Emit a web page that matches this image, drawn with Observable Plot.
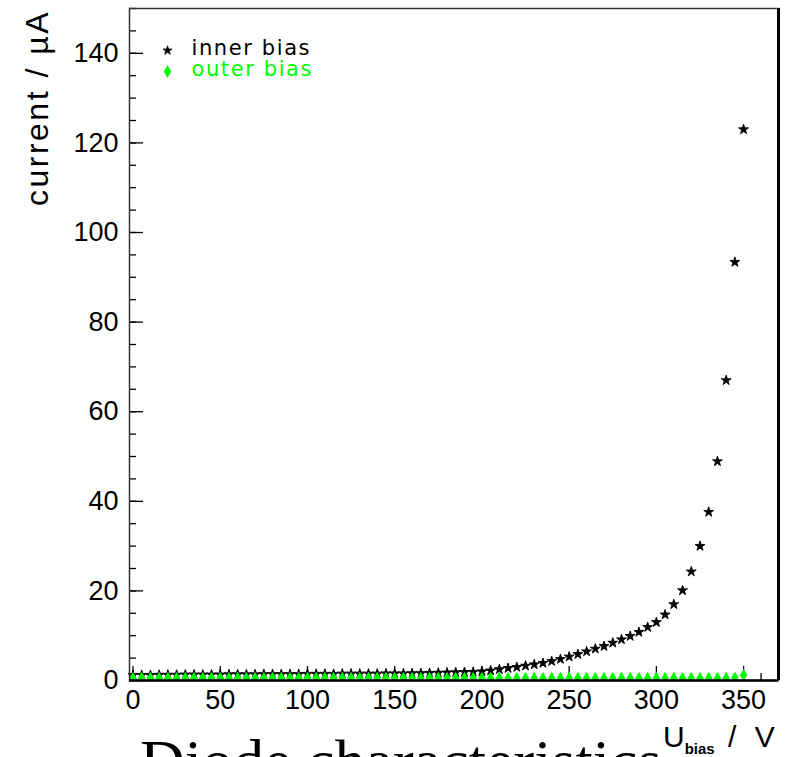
<!DOCTYPE html>
<html><head><meta charset="utf-8">
<script src="https://cdn.jsdelivr.net/npm/d3@7"></script>
<script src="https://cdn.jsdelivr.net/npm/@observablehq/plot@0.6"></script>
<style>
html,body{margin:0;padding:0;background:#fff;overflow:hidden;width:794px;height:757px}
#wrap{position:relative;width:794px;height:757px;overflow:hidden}
#caption{position:absolute;left:140px;top:730px;font-family:"Liberation Serif","Times New Roman",serif;font-size:62px;line-height:62px;white-space:nowrap;color:#000}
svg text{white-space:pre}
</style></head><body>
<div id="wrap"><div id="chart"></div><div id="caption"></div></div>
<script>
const voltage = [0,5,10,15,20,25,30,35,40,45,50,55,60,65,70,75,80,85,90,95,100,105,110,115,120,125,130,135,140,145,150,155,160,165,170,175,180,185,190,195,200,205,210,215,220,225,230,235,240,245,250,255,260,265,270,275,280,285,290,295,300,305,310,315,320,325,330,335,340,345,350];
const innerCurrent = [1.2,1.2,1.2,1.25,1.25,1.25,1.3,1.3,1.3,1.3,
  1.3,1.35,1.35,1.35,1.35,1.4,1.4,1.4,1.4,1.4,
  1.45,1.45,1.45,1.45,1.5,1.5,1.5,1.5,1.5,1.55,
  1.55,1.55,1.6,1.6,1.65,1.7,1.75,1.8,1.85,1.9,
  2.0,2.2,2.5,2.75,2.97,3.27,3.57,3.87,4.3,4.76,
  5.3,5.87,6.47,7.07,7.66,8.4,9.15,9.9,10.8,11.9,
  13.0,14.7,17.0,20.1,24.3,30.0,37.6,48.9,67.0,93.4,
  123.0];
const outerCurrent = [0.5,0.5,0.5,0.5,0.5,0.5,0.5,0.5,0.5,0.5,
  0.5,0.5,0.5,0.5,0.5,0.5,0.5,0.5,0.5,0.5,
  0.5,0.5,0.5,0.5,0.5,0.5,0.5,0.5,0.5,0.5,
  0.5,0.5,0.5,0.5,0.5,0.5,0.5,0.5,0.5,0.5,
  0.5,0.5,0.5,0.5,0.5,0.5,0.5,0.5,0.5,0.5,
  0.5,0.5,0.5,0.5,0.5,0.5,0.5,0.5,0.5,0.5,
  0.5,0.5,0.5,0.5,0.5,0.5,0.5,0.5,0.5,0.6,
  1.2];
const xTickValues = [0,50,100,150,200,250,300,350];
const xMinorTicks = [0,10,20,30,40,50,60,70,80,90,100,110,120,130,140,150,160,170,180,190,200,210,220,230,240,250,260,270,280,290,300,310,320,330,340,350,360,370];
const yTickValues = [0,20,40,60,80,100,120,140];
const yMinorTicks = [0,5,10,15,20,25,30,35,40,45,50,55,60,65,70,75,80,85,90,95,100,105,110,115,120,125,130,135,140,145,150];
const xDomain = [-2, 370];
const yDomain = [0, 150];
const seriesNames = ["inner bias", "outer bias"];
const seriesColors = ["#000000", "#00ff00"];
const seriesSymbols = ["star", "diamond"];
const xTitleParts = ["U", "bias", " / V"];
const yTitle = "current / µA";
const captionText = "Diode characteristics";

const W = 794, H = 757, mL = 129, mR = 16, mT = 8, mB = 77;
const fw = W - mL - mR, fh = H - mT - mB;

const inner = voltage.map((v, i) => ({v, c: innerCurrent[i]}));
const outer = voltage.map((v, i) => ({v, c: outerCurrent[i]}));

const plot = Plot.plot({
  width: W, height: H,
  marginLeft: mL, marginRight: mR, marginTop: mT, marginBottom: mB,
  x: {domain: xDomain},
  y: {domain: yDomain},
  style: {fontFamily: "'Liberation Sans', Arial, sans-serif", fontSize: "27px", background: "#fff", color: "#000"},
  marks: [
    Plot.tickY(yMinorTicks, {y: d => d, insetRight: fw - 7, stroke: "#000", strokeWidth: 1.3}),
    Plot.tickY(yTickValues, {y: d => d, insetRight: fw - 14, stroke: "#000", strokeWidth: 1.3}),
    Plot.tickX(xMinorTicks, {x: d => d, insetTop: fh - 7, stroke: "#000", strokeWidth: 1.3}),
    Plot.tickX(xTickValues, {x: d => d, insetTop: fh - 14, stroke: "#000", strokeWidth: 1.3}),
    Plot.axisY(yTickValues, {tickSize: 0, tickPadding: 11, label: null, fontSize: 27}),
    Plot.axisX(xTickValues, {tickSize: 0, tickPadding: 9, label: null, fontSize: 27}),
    Plot.dot(inner, {x: "v", y: "c", symbol: seriesSymbols[0], r: 3.1, fill: seriesColors[0], stroke: seriesColors[0], strokeWidth: 0.9}),
    Plot.dot(outer, {x: "v", y: "c", symbol: seriesSymbols[1], r: 3.9, fill: seriesColors[1], stroke: null, clip: true}),
    Plot.frame({stroke: "#333", strokeWidth: 1.5}),
    Plot.ruleX([xDomain[1]], {stroke: "#000", strokeWidth: 3}),
    Plot.ruleY([yDomain[0]], {stroke: "#000", strokeWidth: 2.5}),
    Plot.dot([seriesNames[0]], {frameAnchor: "top-left", dx: 38, dy: 42, symbol: seriesSymbols[0], r: 2.8, fill: seriesColors[0], stroke: seriesColors[0], strokeWidth: 0.8}),
    Plot.dot([seriesNames[1]], {frameAnchor: "top-left", dx: 38, dy: 63, symbol: seriesSymbols[1], r: 3.9, fill: seriesColors[1], stroke: null}),
    Plot.text([seriesNames[0]], {text: d => d, frameAnchor: "top-left", dx: 62, dy: 40, textAnchor: "start", lineAnchor: "middle", fontSize: 21, fontFamily: "'DejaVu Sans', sans-serif", fill: seriesColors[0]}),
    Plot.text([seriesNames[1]], {text: d => d, frameAnchor: "top-left", dx: 62, dy: 61, textAnchor: "start", lineAnchor: "middle", fontSize: 21, fontFamily: "'DejaVu Sans', sans-serif", fill: seriesColors[1]})
  ]
});

document.getElementById("chart").appendChild(plot);
const svg = d3.select(plot);
svg.selectAll("text").filter(function(){ return this.textContent === seriesNames[0] || this.textContent === seriesNames[1]; }).style("letter-spacing", "1.6px");

const xt = svg.append("text")
  .attr("x", 663).attr("y", 747)
  .attr("text-anchor", "start").attr("font-size", 30).attr("fill", "#000");
xt.append("tspan").text(xTitleParts[0]);
xt.append("tspan").attr("font-size", 15).attr("font-weight", "bold").attr("dy", 7).text(xTitleParts[1]);
xt.append("tspan").attr("dy", -7).style("letter-spacing", "5px").text(xTitleParts[2]);

svg.append("text")
  .attr("transform", `translate(48,${mT + 2}) rotate(-90)`)
  .attr("text-anchor", "end").attr("font-size", 32).attr("fill", "#000")
  .style("letter-spacing", "2.5px")
  .text(yTitle);

document.getElementById("caption").textContent = captionText;
</script>
</body></html>
